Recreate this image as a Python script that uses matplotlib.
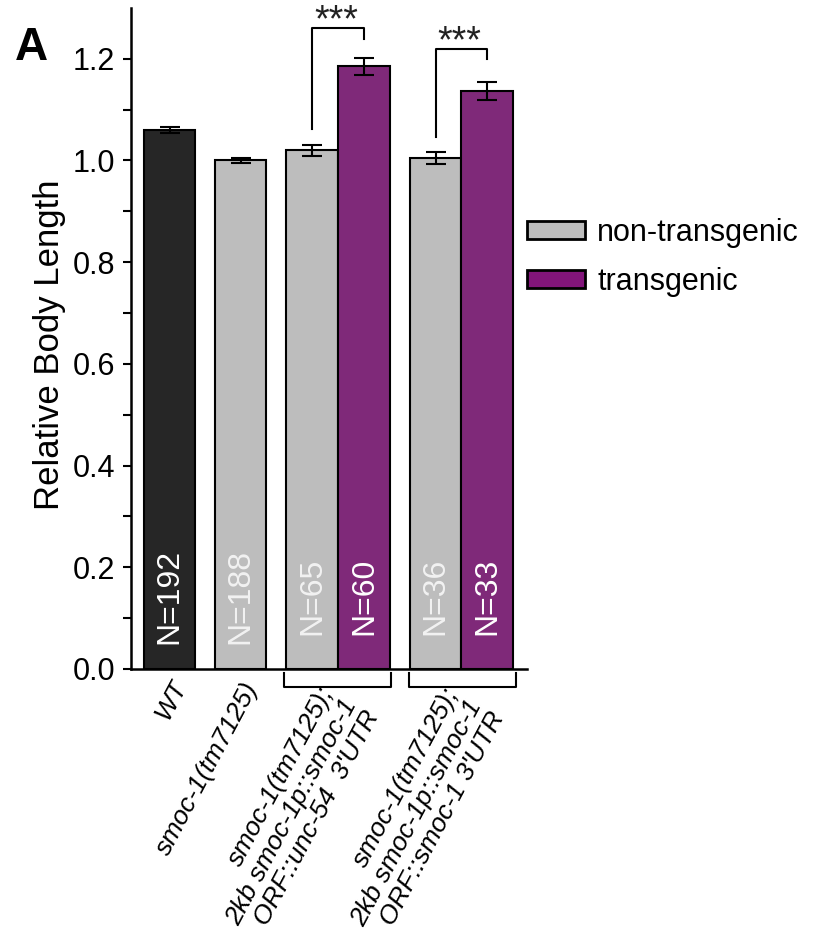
import numpy as np
import matplotlib
matplotlib.use("Agg")
import matplotlib.pyplot as plt
from matplotlib.patches import Patch

plt.rcParams["font.family"] = ["Liberation Sans", "DejaVu Sans"]

# 데이터
positions = [0, 1.37, 2.755, 3.755, 5.14, 6.14]
means = [1.060, 1.000, 1.020, 1.185, 1.005, 1.137]
errors = [0.005, 0.004, 0.011, 0.017, 0.012, 0.018]
n_labels = ["N=192", "N=188", "N=65", "N=60", "N=36", "N=33"]
bar_colors = ["#262626", "#bdbdbd", "#bdbdbd", "#7f2979", "#bdbdbd", "#7f2979"]
n_colors = ["white", "#f2f2f2", "#f2f2f2", "white", "#f2f2f2", "white"]

group_labels = [
    "WT",
    "smoc-1(tm7125)",
    "smoc-1(tm7125);\n2kb smoc-1p::smoc-1\nORF::unc-54  3'UTR",
    "smoc-1(tm7125);\n2kb smoc-1p::smoc-1\nORF::smoc-1 3'UTR",
]
label_anchor = [(0.22, -0.024), (1.60, -0.030), (3.50, -0.062), (5.92, -0.064)]

# 유의성 표시 (왼쪽 막대, 오른쪽 막대, 왼쪽 시작, 오른쪽 시작, 상단)
sig_pairs = [(2, 3, 1.061, 1.239, 1.261), (4, 5, 1.047, 1.200, 1.219)]
sig_text = "***"

legend_labels = ["non-transgenic", "transgenic"]
legend_colors = ["#bdbdbd", "#82157a"]

fig = plt.figure(figsize=(8.16, 9.43), dpi=100)
ax = fig.add_axes([0.160, 0.2906, 0.486, 0.701])

ax.bar(positions, means, width=1.0, color=bar_colors, edgecolor="black",
       linewidth=1.5, zorder=2)
ax.errorbar(positions, means, yerr=errors, fmt="none", ecolor="black",
            elinewidth=1.5, capsize=7.5, capthick=1.5, zorder=3)

for x, txt, c in zip(positions, n_labels, n_colors):
    ax.text(x, 0.143, txt, rotation=90, ha="center", va="center",
            fontsize=23, color=c, zorder=4)

for i, j, yl, yr, top in sig_pairs:
    xl, xr = positions[i], positions[j]
    ax.plot([xl, xl, xr, xr], [yl, top, top, yr], color="black", lw=1.5,
            clip_on=False)
    ax.text((xl + xr) / 2 - 0.04, top - 0.006, sig_text, ha="center",
            va="baseline", fontsize=27, color="#222222")

# x축 아래 그룹 괄호
for lo, hi in [(2.215, 4.284), (4.632, 6.696)]:
    ax.plot([lo, lo, hi, hi], [-0.008, -0.035, -0.035, -0.008], color="black",
            lw=1.5, clip_on=False)

for txt, (x, y) in zip(group_labels, label_anchor):
    ax.text(x, y, txt, rotation=62, rotation_mode="anchor", ha="right",
            va="center", multialignment="right", fontsize=19,
            style="italic", linespacing=1.1)

ax.set_xlim(-0.755, 6.91)
ax.set_ylim(0, 1.30)
ax.set_xticks([])
ax.set_yticks(np.arange(0, 1.21, 0.2))
ax.set_yticks(np.arange(0.1, 1.21, 0.2), minor=True)
ax.yaxis.set_major_formatter(matplotlib.ticker.FormatStrFormatter("%.1f"))
ax.tick_params(axis="y", which="both", length=6, width=1.5, labelsize=22, pad=5)
for side in ["top", "right"]:
    ax.spines[side].set_visible(False)
for side in ["left", "bottom"]:
    ax.spines[side].set_linewidth(1.8)

ax.set_ylabel("Relative Body Length", fontsize=25)
ax.yaxis.set_label_coords(-0.162, 0.49)

fig.text(0.018, 0.936, "A", fontsize=33, fontweight="bold")

handles = [Patch(facecolor=c, edgecolor="black", linewidth=2) for c in legend_colors]
fig.legend(handles, legend_labels, loc="upper left", bbox_to_anchor=(0.646, 0.769),
           frameon=False, fontsize=22, handlelength=1.9, handleheight=0.55,
           handletextpad=0.4, labelspacing=0.62, borderpad=0, borderaxespad=0)

plt.savefig("out.png", dpi=100)
plt.close()
